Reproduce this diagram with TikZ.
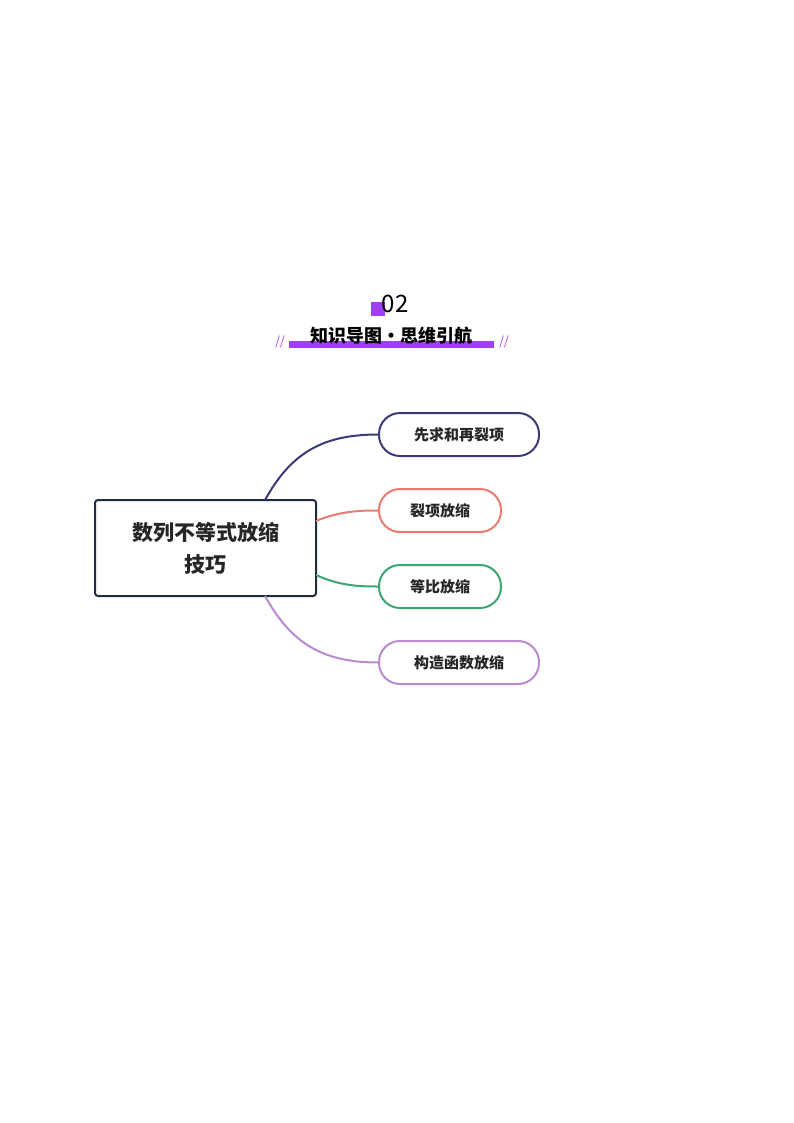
\documentclass[tikz,border=0pt]{standalone}
\usepackage{fontspec}
\setmainfont{Noto Sans CJK SC}
\begin{document}
\begin{tikzpicture}[x=1pt,y=-1pt,
  pill/.style={draw=#1,line width=2pt,rounded corners=21pt,minimum height=43pt,inner sep=0pt,font=\fontsize{15}{18}\selectfont\bfseries,text=black!85},
  link/.style={draw=#1,line width=2pt}]
\useasboundingbox (0,0) rectangle (794,1123);
\definecolor{cA}{HTML}{3A3A78}\definecolor{cB}{HTML}{E87B72}
\definecolor{cC}{HTML}{3AA672}\definecolor{cD}{HTML}{B98AD0}
\definecolor{pur}{HTML}{A040F0}\definecolor{dk}{HTML}{1E2D40}
\fill[pur] (371,302) rectangle (385,316);
\node (num) at (395,304) {\fontsize{24}{26}\selectfont 02};
\fill[pur] (289,341) rectangle (494,348);
\node (ttl) at (391,336) {\fontsize{18}{20}\selectfont\bfseries 知识导图·思维引航};
\node[text=pur] (l1) at (280,342) {\fontsize{12}{12}\selectfont //};
\node[text=pur] (l2) at (504,342) {\fontsize{12}{12}\selectfont //};
\node[draw=dk,line width=2pt,rounded corners=3pt,minimum width=221pt,minimum height=96pt,align=center,font=\fontsize{21}{32}\selectfont\bfseries,text=black!85] (c) at (205.5,548) {数列不等式放缩\\技巧};
\node[pill=cA,minimum width=160pt] (a) at (459,434.5) {先求和再裂项};
\node[pill=cB,minimum width=122pt] (b) at (440,510.5) {裂项放缩};
\node[pill=cC,minimum width=122pt] (d) at (440,586.5) {等比放缩};
\node[pill=cD,minimum width=160pt] (e) at (459,662.5) {构造函数放缩};
\coordinate (c1) at (265,500);\coordinate (c2) at (316,521);
\coordinate (c3) at (316,575);\coordinate (c4) at (265,596);
\draw[link=cA] (c1) .. controls (290,455) and (320,434.5) .. (a.west);
\draw[link=cB] (c2) .. controls (340,511) and (360,510.5) .. (b.west);
\draw[link=cC] (c3) .. controls (340,586) and (360,586.5) .. (d.west);
\draw[link=cD] (c4) .. controls (290,641) and (320,662.5) .. (e.west);
\end{tikzpicture}
\end{document}
